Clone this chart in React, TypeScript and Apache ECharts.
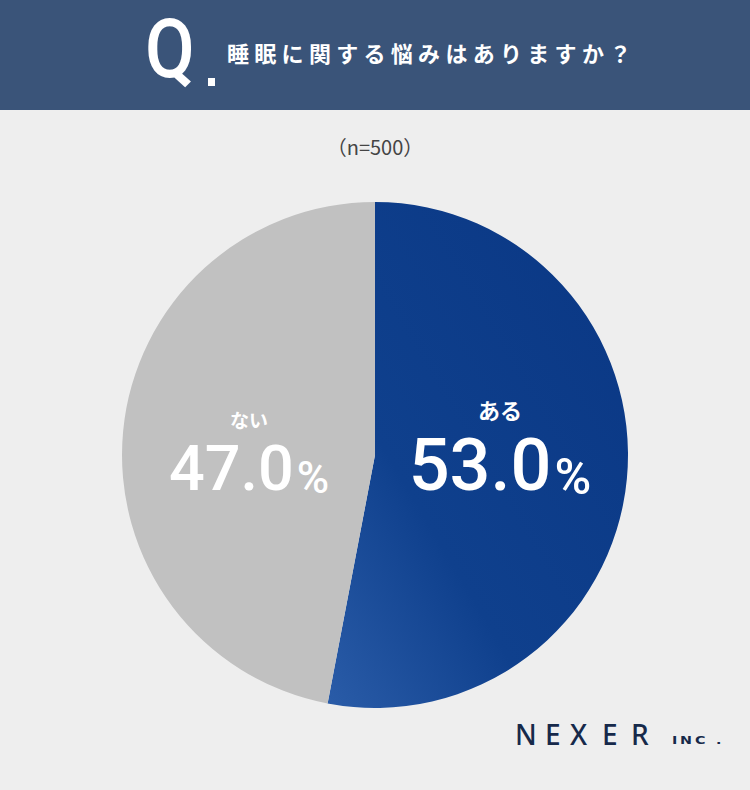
import React, { useEffect, useRef } from "react";
import * as echarts from "echarts";

const title = "睡眠に関する悩みはありますか？";
const sampleNote = "（n=500）";
const categories = ["ある", "ない"];
const values = [53.0, 47.0];
const logoMain = "NEXER";
const logoSub = "INC.";

export default function App() {
  const ref = useRef<HTMLDivElement>(null);
  useEffect(() => {
    if (!ref.current) return;
    const chart = echarts.init(ref.current, undefined, { renderer: "svg" });
    const titleChars = title.split("").map((ch, i) => ({
      type: "text",
      x: 227 + i * 27.3,
      y: 52,
      style: {
        text: ch,
        fill: "#ffffff",
        font: 'bold 22px "Noto Sans CJK JP"',
        verticalAlign: "middle",
        align: "left",
      },
    }));
    const logoXs = [515, 545, 570, 602, 631];
    const logoLetters = logoMain.split("").map((ch, i) => ({
      type: "text",
      x: logoXs[i],
      y: 734,
      style: {
        text: ch,
        fill: "#16294a",
        font: '500 28px "Noto Sans"',
        verticalAlign: "middle",
        align: "left",
      },
    }));
    const subXs = [672, 680, 695, 716];
    const subLetters = logoSub.split("").map((ch, i) => ({
      type: "text",
      x: subXs[i],
      y: 740,
      scaleX: 1.3,
      style: {
        text: ch,
        fill: "#16294a",
        font: 'bold 11px "DejaVu Sans"',
        verticalAlign: "middle",
        align: "left",
      },
    }));
    const labelRich = (big: number, pct: number, nameSize: number, gap: number) => ({
      name: { fontSize: nameSize, fontWeight: "bold", color: "#fff", fontFamily: "Noto Sans CJK JP", lineHeight: nameSize + 4 },
      val: { fontSize: big, fontWeight: 500, color: "#fff", fontFamily: "Roboto", lineHeight: big + gap },
      pct: { fontSize: pct, fontWeight: 500, color: "#fff", fontFamily: "Roboto", lineHeight: big + gap, verticalAlign: "bottom", padding: [0, 0, 6, 3] },
    });
    chart.setOption({
      animation: false,
      backgroundColor: "#eeeeee",
      graphic: [
        { type: "rect", shape: { x: 0, y: 0, width: 750, height: 110 }, style: { fill: "#3a5479" } },
        { type: "text", x: 145, y: 49, scaleX: 0.88, style: { text: "Q", fill: "#fff", font: '500 82px "Roboto"', verticalAlign: "middle", align: "left" } },
        { type: "rect", shape: { x: 208, y: 78, width: 7, height: 8 }, style: { fill: "#fff" } },
        ...titleChars,
        { type: "text", x: 375, y: 146, style: { text: sampleNote, fill: "#444444", font: '20px "Noto Sans CJK JP"', align: "center", verticalAlign: "middle" } },
        ...logoLetters,
        ...subLetters,
      ],
      series: [
        {
          type: "pie",
          center: [375, 455],
          radius: 253,
          startAngle: 90,
          clockwise: true,
          silent: true,
          labelLine: { show: false },
          label: {
            show: true,
            position: "inside",
            formatter: (p: any) => `{name|${p.name}}\n{val|${p.value.toFixed(1)}}{pct|%}`,
          },
          data: [
            {
              name: categories[0],
              value: values[0],
              itemStyle: {
                color: new echarts.graphic.LinearGradient(1, 0, 0, 1, [
                  { offset: 0, color: "#0a3784" },
                  { offset: 0.65, color: "#0f408d" },
                  { offset: 1, color: "#2a5ca8" },
                ]),
              },
              label: { offset: [-4, -15], rich: labelRich(72, 50, 22, 14) },
            },
            {
              name: categories[1],
              value: values[1],
              itemStyle: { color: "#c1c1c1" },
              label: { offset: [3, 14], rich: labelRich(63, 44, 19, 12) },
            },
          ],
        },
      ],
    });
    return () => chart.dispose();
  }, []);
  return <div ref={ref} style={{ position: "absolute", left: 0, top: 0, width: 750, height: 790 }} />;
}
